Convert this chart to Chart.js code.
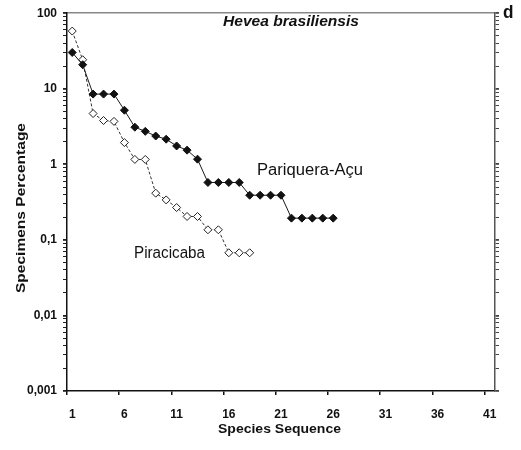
<!DOCTYPE html>
<html>
<head>
<meta charset="utf-8">
<script src="https://cdn.jsdelivr.net/npm/chart.js@4/dist/chart.umd.min.js"></script>
<style>
  body { margin: 0; background: #fff; }
  canvas { display: block; }
</style>
</head>
<body>
<canvas id="chart" width="521" height="450"></canvas>
<script>
const fontFam = '"Liberation Sans", Arial, sans-serif';

// species sequence (x categories)
const speciesSeq = [1, 2, 3, 4, 5, 6, 7, 8, 9, 10, 11, 12, 13, 14, 15, 16, 17, 18, 19, 20,
  21, 22, 23, 24, 25, 26, 27, 28, 29, 30, 31, 32, 33, 34, 35, 36, 37, 38, 39, 40, 41];

// specimens percentage
const pariqueraAcu = [30.2, 20.8, 8.5, 8.5, 8.5, 5.2, 3.1, 2.73, 2.37, 2.15, 1.75, 1.54, 1.17,
  0.575, 0.575, 0.575, 0.575, 0.39, 0.39, 0.39, 0.39, 0.194, 0.194, 0.194, 0.194, 0.194];
const piracicaba = [58, 24.2, 4.7, 3.8, 3.7, 1.94, 1.16, 1.16, 0.415, 0.338, 0.268, 0.204, 0.204,
  0.136, 0.136, 0.0675, 0.0675, 0.0675];

// y axis decades and their labels
const yDecades = [0.001, 0.01, 0.1, 1, 10, 100];
const yTickLabels = ['0,001', '0,01', '0,1', '1', '10', '100'];
const yMinorSteps = [1, 2, 3, 4, 5, 6, 7, 8, 9];

let yTickValues = [];
yDecades.forEach(d => {
  if (d === 100) { yTickValues.push(100); return; }
  yMinorSteps.forEach(s => yTickValues.push(+(d * s).toPrecision(3)));
});

function setLogTicks(scale) {
  scale.ticks = yTickValues.map(v => ({ value: v, major: yDecades.includes(v) }));
}

function yLabel(v) {
  const i = yDecades.findIndex(d => Math.abs(d - v) < d * 1e-6);
  return i >= 0 ? yTickLabels[i] : '';
}

// draw text stretched to a target width
function fitText(ctx, txt, x, y, font, width, rot) {
  ctx.save();
  ctx.font = font;
  const w = ctx.measureText(txt).width;
  ctx.translate(x, y);
  if (rot) ctx.rotate(rot);
  ctx.scale(width / w, 1);
  ctx.textAlign = 'left';
  ctx.textBaseline = 'alphabetic';
  ctx.fillStyle = '#111';
  ctx.fillText(txt, 0, 0);
  ctx.restore();
}

const textPlugin = {
  id: 'texts',
  afterDraw(chart) {
    const ctx = chart.ctx;
    fitText(ctx, 'Hevea brasiliensis', 223, 26, 'italic bold 14px ' + fontFam, 136);
    fitText(ctx, 'Pariquera-Açu', 257, 175, '16px ' + fontFam, 106);
    fitText(ctx, 'Piracicaba', 134, 258, '16px ' + fontFam, 71);
    fitText(ctx, 'd', 503, 18, 'bold 19px ' + fontFam, 10.5);
    fitText(ctx, 'Species Sequence', 218, 433, 'bold 13px ' + fontFam, 123);
    fitText(ctx, 'Specimens Percentage', 24.5, 293, 'bold 13px ' + fontFam, 170, -Math.PI / 2);
  }
};

new Chart(document.getElementById('chart'), {
  type: 'line',
  data: {
    labels: speciesSeq.map(String),
    datasets: [
      {
        label: 'Pariquera-Açu',
        data: pariqueraAcu,
        borderColor: '#1a1a1a',
        borderWidth: 1,
        pointStyle: 'rectRot',
        pointRadius: 4,
        pointBackgroundColor: '#111',
        pointBorderColor: '#111',
        pointBorderWidth: 1,
        tension: 0,
        xAxisID: 'x',
        yAxisID: 'y'
      },
      {
        label: 'Piracicaba',
        data: piracicaba,
        borderColor: '#333',
        borderWidth: 1,
        borderDash: [3, 2],
        pointStyle: 'rectRot',
        pointRadius: 4,
        pointBackgroundColor: '#fff',
        pointBorderColor: '#222',
        pointBorderWidth: 1,
        tension: 0,
        xAxisID: 'x',
        yAxisID: 'y'
      }
    ]
  },
  options: {
    responsive: false,
    animation: false,
    devicePixelRatio: 1,
    layout: { padding: 0 },
    plugins: {
      legend: { display: false },
      tooltip: { enabled: false }
    },
    scales: {
      x: {
        type: 'category',
        position: 'bottom',
        offset: true,
        grid: {
          offset: true,
          drawOnChartArea: false,
          drawTicks: true,
          tickLength: 4,
          lineWidth: 1.5,
          color: ctx => (ctx.index % 5 === 0 ? '#111' : 'rgba(0,0,0,0)')
        },
        border: { color: '#111', width: 1.5 },
        ticks: {
          autoSkip: false,
          maxRotation: 0,
          padding: 12,
          color: '#111',
          font: { family: fontFam, size: 12, weight: 'bold' },
          callback: (v, i) => (i % 5 === 0 ? String(speciesSeq[i]) : '')
        },
        afterFit: s => { s.height = 59; }
      },
      x2: {
        type: 'category',
        position: 'top',
        offset: true,
        ticks: { display: false },
        grid: { drawOnChartArea: false, drawTicks: false },
        border: { color: '#888', width: 1.5 },
        afterFit: s => { s.height = 10; }
      },
      y: {
        type: 'logarithmic',
        position: 'left',
        min: 0.001,
        max: 100,
        afterBuildTicks: setLogTicks,
        ticks: {
          autoSkip: false,
          padding: 6,
          color: '#111',
          font: { family: fontFam, size: 12, weight: 'bold' },
          callback: v => yLabel(v)
        },
        grid: {
          drawOnChartArea: false,
          tickLength: 4,
          color: '#222',
          lineWidth: ctx => (ctx.tick && ctx.tick.major ? 1.8 : 1)
        },
        border: { color: '#111', width: 1.5 },
        afterFit: s => { s.width = 67; }
      },
      y2: {
        type: 'logarithmic',
        position: 'right',
        min: 0.001,
        max: 100,
        afterBuildTicks: setLogTicks,
        ticks: { display: false },
        grid: {
          drawOnChartArea: false,
          tickLength: 4,
          color: '#444',
          lineWidth: ctx => (ctx.tick && ctx.tick.major ? 1.8 : 1)
        },
        border: { color: '#555', width: 1.5 },
        afterFit: s => { s.width = 26; }
      }
    }
  },
  plugins: [textPlugin]
});
</script>
</body>
</html>
